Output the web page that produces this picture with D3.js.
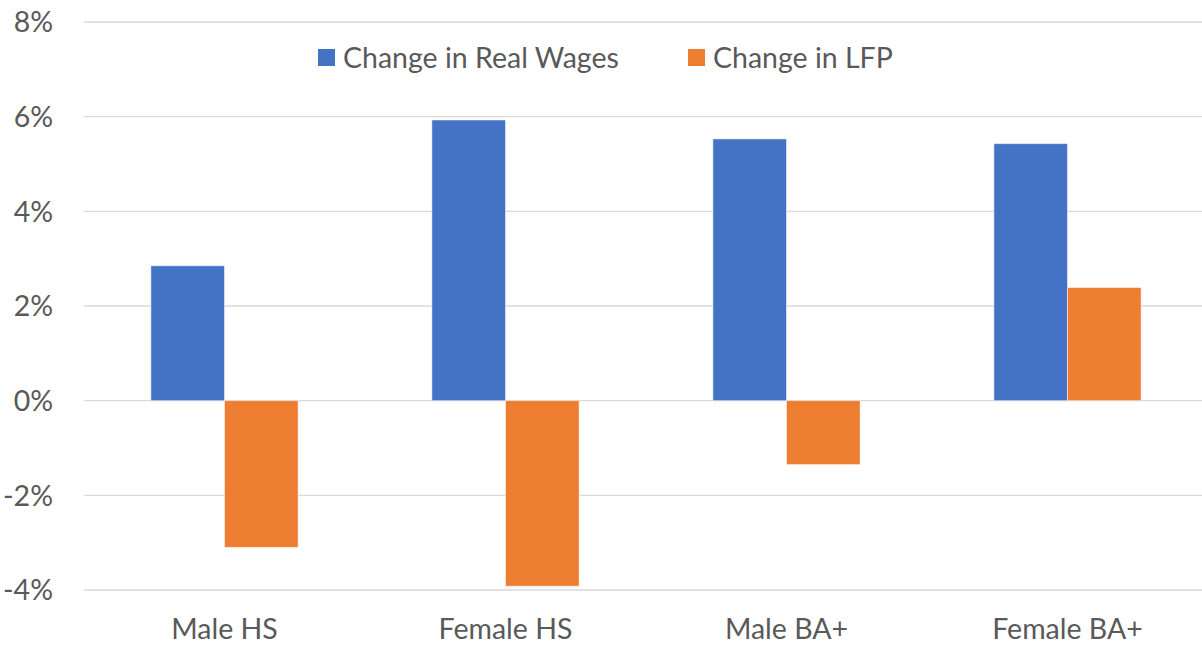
<!DOCTYPE html>
<html>
<head>
<meta charset="utf-8">
<script src="https://cdn.jsdelivr.net/npm/d3@7.9.0/dist/d3.min.js"></script>
<style>
  body { margin: 0; background: #fff; }
  svg { display: block; font-family: Lato, "Open Sans", sans-serif; }
</style>
</head>
<body>
<svg id="chart" width="1202" height="646"></svg>
<script>
// data
const categories = ['Male HS', 'Female HS', 'Male BA+', 'Female BA+'];
const seriesNames = ['Change in Real Wages', 'Change in LFP'];
const realWages = [2.85, 5.93, 5.53, 5.43];
const lfp = [-3.10, -3.92, -1.35, 2.39];
const yTicks = [-4, -2, 0, 2, 4, 6, 8];
const colors = ['#4472C4', '#ED7D31'];

const svg = d3.select('#chart');
// plot area runs a little past the right edge of the picture
const margin = { top: 22, right: -6, bottom: 56, left: 84 };
const width = 1202 - margin.left - margin.right;
const height = 646 - margin.top - margin.bottom;
const fontSize = 28.5;

const g = svg.append('g').attr('transform', `translate(${margin.left},${margin.top})`);

const y = d3.scaleLinear().domain([-4, 8]).range([height, 0]);
const x0 = d3.scaleBand().domain(categories).range([0, width])
  .paddingInner(0.476).paddingOuter(0.238);
const x1 = d3.scaleBand().domain(seriesNames).range([0, x0.bandwidth()]);

// gridlines
g.selectAll('.grid')
  .data(yTicks)
  .join('line')
  .attr('x1', 0).attr('x2', width)
  .attr('y1', d => y(d)).attr('y2', d => y(d))
  .attr('stroke', '#D9D9D9')
  .attr('stroke-width', 1.3);

// y labels
g.selectAll('.ylab')
  .data(yTicks)
  .join('text')
  .attr('x', -31)
  .attr('y', d => y(d))
  .attr('dy', '0.36em')
  .attr('text-anchor', 'end')
  .attr('fill', '#595959')
  .attr('font-size', fontSize)
  .text(d => d + '%');

// bars
const rows = categories.map((c, i) => ({ cat: c, vals: [realWages[i], lfp[i]] }));
const groups = g.selectAll('.grp')
  .data(rows)
  .join('g')
  .attr('transform', d => `translate(${x0(d.cat)},0)`);

groups.selectAll('rect')
  .data(d => d.vals.map((v, j) => ({ v, j })))
  .join('rect')
  .attr('x', d => x1(seriesNames[d.j]))
  .attr('width', x1.bandwidth())
  .attr('y', d => y(Math.max(0, d.v)))
  .attr('height', d => Math.abs(y(d.v) - y(0)))
  .attr('fill', d => colors[d.j])
  .attr('stroke', '#fff')
  .attr('stroke-opacity', 0.5)
  .attr('stroke-width', 1);

// category labels
g.selectAll('.xlab')
  .data(categories)
  .join('text')
  .attr('x', d => x0(d) + x0.bandwidth() / 2)
  .attr('y', height + 49)
  .attr('text-anchor', 'middle')
  .attr('fill', '#595959')
  .attr('font-size', fontSize)
  .text(d => d);

// legend
const legendX = [318, 688];
const legend = svg.selectAll('.leg')
  .data(seriesNames)
  .join('g')
  .attr('transform', (d, i) => `translate(${legendX[i]},57.5)`);
legend.append('rect')
  .attr('x', 0).attr('y', -8.5)
  .attr('width', 17).attr('height', 17)
  .attr('fill', (d, i) => colors[i]);
legend.append('text')
  .attr('x', 25)
  .attr('dy', '0.36em')
  .attr('fill', '#595959')
  .attr('font-size', fontSize)
  .text(d => d);
</script>
</body>
</html>
